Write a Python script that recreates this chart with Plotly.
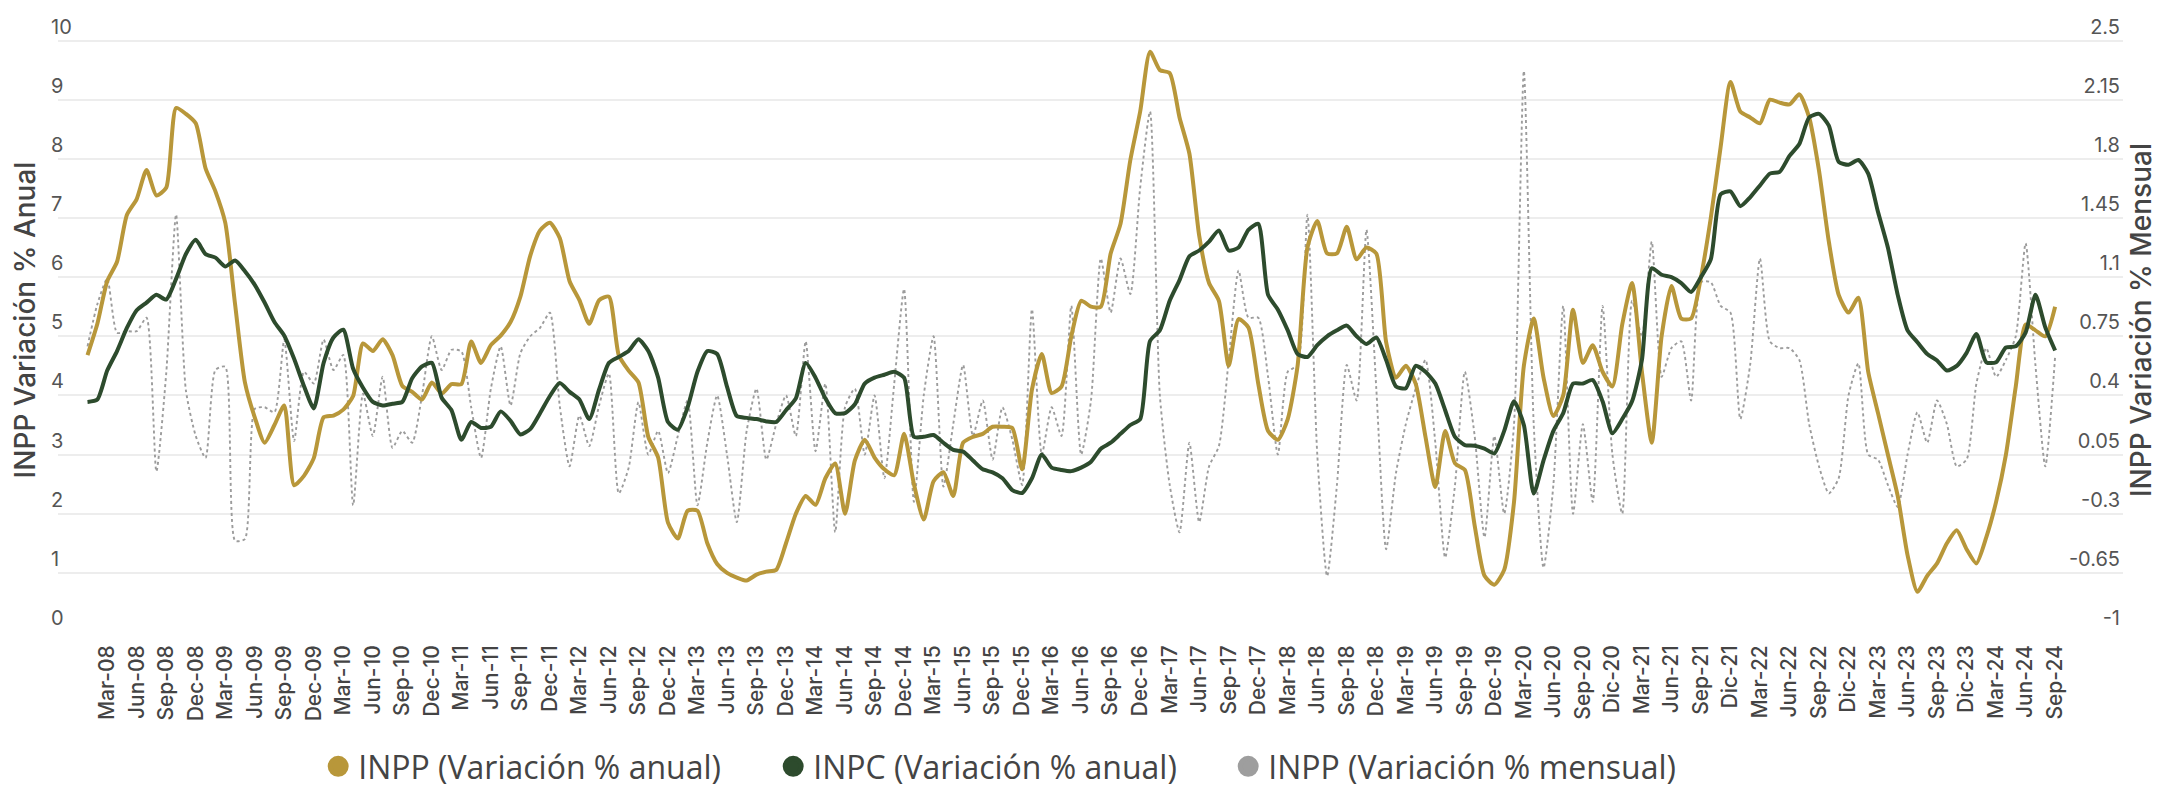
import plotly.graph_objects as go

# Monthly series, Jan-2008 .. Sep-2024
INPP_ANUAL = [
    4.68, 5.21, 5.93, 6.26, 7.05, 7.32, 7.81, 7.38, 7.51, 8.86, 8.76, 8.60,
    7.84, 7.45, 6.92, 5.54, 4.22, 3.63, 3.20, 3.50, 3.83, 2.48, 2.64, 2.94,
    3.63, 3.66, 3.76, 3.99, 4.88, 4.75, 4.95, 4.68, 4.16, 4.06, 3.93, 4.22,
    4.03, 4.19, 4.19, 4.91, 4.55, 4.85, 5.01, 5.24, 5.67, 6.36, 6.79, 6.92,
    6.66, 5.93, 5.61, 5.21, 5.61, 5.67, 4.68, 4.42, 4.22, 3.30, 2.95, 1.85,
    1.58, 2.05, 2.05, 1.50, 1.15, 1.00, 0.92, 0.87, 0.97, 1.02, 1.05, 1.50,
    2.00, 2.30, 2.15, 2.60, 2.85, 2.00, 2.90, 3.25, 2.95, 2.75, 2.65, 3.35,
    2.50, 1.90, 2.55, 2.70, 2.30, 3.20, 3.30, 3.35, 3.47, 3.47, 3.45, 2.75,
    4.10, 4.70, 4.04, 4.15, 5.00, 5.60, 5.50, 5.50, 6.40, 6.90, 7.98, 8.80,
    9.81, 9.50, 9.45, 8.70, 8.09, 6.70, 5.90, 5.60, 4.50, 5.29, 5.15, 4.20,
    3.40, 3.25, 3.60, 4.50, 6.50, 6.95, 6.40, 6.40, 6.85, 6.30, 6.50, 6.40,
    4.90, 4.30, 4.50, 4.20, 3.30, 2.45, 3.40, 2.85, 2.74, 1.80, 0.95, 0.80,
    1.05, 2.20, 4.50, 5.30, 4.30, 3.65, 4.00, 5.45, 4.55, 4.85, 4.40, 4.15,
    5.20, 5.90, 4.40, 3.20, 5.00, 5.85, 5.30, 5.30, 6.00, 7.00, 8.20, 9.30,
    8.80, 8.70, 8.60, 9.00, 8.95, 8.92, 9.09, 8.70, 7.80, 6.60, 5.70, 5.40,
    5.65, 4.40, 3.70, 3.00, 2.30, 1.30, 0.68, 0.95, 1.16, 1.50, 1.72, 1.40,
    1.16, 1.60, 2.20, 3.00, 4.15, 5.20, 5.10, 5.00, 5.50,
]

INPC_ANUAL = [
    3.89, 3.93, 4.42, 4.75, 5.14, 5.44, 5.57, 5.70, 5.62, 5.97, 6.39, 6.63,
    6.39, 6.33, 6.18, 6.28, 6.10, 5.87, 5.57, 5.24, 5.01, 4.62, 4.16, 3.78,
    4.55, 4.98, 5.11, 4.45, 4.13, 3.89, 3.83, 3.86, 3.89, 4.29, 4.49, 4.55,
    3.96, 3.75, 3.25, 3.55, 3.45, 3.47, 3.73, 3.57, 3.34, 3.43, 3.70, 3.99,
    4.21, 4.06, 3.93, 3.60, 4.10, 4.55, 4.65, 4.75, 4.95, 4.75, 4.30, 3.55,
    3.42, 3.80, 4.40, 4.75, 4.70, 4.15, 3.65, 3.62, 3.60, 3.56, 3.55, 3.75,
    3.95, 4.55, 4.30, 3.95, 3.70, 3.70, 3.85, 4.20, 4.30, 4.35, 4.40, 4.30,
    3.30, 3.30, 3.33, 3.20, 3.08, 3.05, 2.90, 2.75, 2.70, 2.60, 2.40, 2.35,
    2.60, 3.00, 2.78, 2.74, 2.72, 2.78, 2.88, 3.10, 3.20, 3.35, 3.50, 3.60,
    4.92, 5.10, 5.60, 5.95, 6.35, 6.45, 6.60, 6.79, 6.45, 6.50, 6.80, 6.90,
    5.70, 5.45, 5.10, 4.70, 4.65, 4.85, 5.00, 5.10, 5.18, 5.00, 4.87, 4.98,
    4.60, 4.15, 4.12, 4.50, 4.40, 4.20, 3.75, 3.30, 3.16, 3.15, 3.10, 3.02,
    3.40, 3.90, 3.50, 2.34, 2.90, 3.40, 3.70, 4.20, 4.20, 4.26, 3.90, 3.36,
    3.60, 3.90, 4.60, 6.15, 6.04, 6.00, 5.90, 5.75, 6.00, 6.30, 7.40, 7.45,
    7.20, 7.35, 7.55, 7.75, 7.78, 8.05, 8.25, 8.70, 8.76, 8.56, 7.95, 7.90,
    7.98, 7.75, 7.10, 6.50, 5.70, 5.10, 4.90, 4.70, 4.59, 4.42, 4.50, 4.72,
    5.04, 4.56, 4.56, 4.81, 4.83, 5.06, 5.70, 5.15, 4.76,
]

INPP_MENSUAL = [
    0.69, 0.94, 1.09, 0.77, 0.78, 0.78, 0.86, -0.05, 0.53, 1.47, 0.43, 0.16,
    0.03, 0.55, 0.57, -0.46, -0.45, 0.32, 0.33, 0.30, 0.73, 0.13, 0.54, 0.47,
    0.73, 0.55, 0.64, -0.25, 0.41, 0.16, 0.51, 0.09, 0.19, 0.12, 0.40, 0.75,
    0.55, 0.67, 0.66, 0.33, 0.03, 0.44, 0.69, 0.34, 0.65, 0.75, 0.80, 0.89,
    0.34, -0.02, 0.28, 0.10, 0.34, 0.53, -0.18, -0.03, 0.36, 0.05, 0.19, -0.06,
    0.16, 0.37, -0.25, 0.12, 0.40, 0.05, -0.35, 0.19, 0.44, 0.02, 0.23, 0.40,
    0.16, 0.72, 0.07, 0.47, -0.41, 0.33, 0.44, 0.05, 0.40, -0.09, 0.47, 1.03,
    -0.23, 0.40, 0.75, -0.14, 0.23, 0.58, 0.16, 0.37, 0.02, 0.33, 0.14, -0.13,
    0.91, 0.05, 0.33, 0.16, 0.93, 0.05, 0.37, 1.21, 0.89, 1.21, 1.00, 1.63,
    2.08, 0.40, -0.13, -0.41, 0.12, -0.35, -0.02, 0.10, 0.61, 1.14, 0.86, 0.86,
    0.51, 0.05, 0.54, 0.58, 1.47, 0.05, -0.67, -0.13, 0.58, 0.37, 1.38, 0.44,
    -0.51, -0.06, 0.23, 0.44, 0.61, 0.12, -0.56, -0.13, 0.54, 0.16, -0.44, 0.16,
    -0.30, 0.23, 2.32, 0.23, -0.62, -0.13, 0.93, -0.30, 0.23, -0.23, 0.93, 0.05,
    -0.30, 0.96, 0.75, 1.31, 0.51, 0.68, 0.72, 0.37, 1.07, 1.07, 0.93, 0.89,
    0.26, 0.58, 1.21, 0.72, 0.68, 0.68, 0.61, 0.23, -0.02, -0.18, -0.09, 0.40,
    0.59, 0.05, 0.02, -0.13, -0.26, 0.05, 0.30, 0.12, 0.37, 0.23, -0.02, 0.02,
    0.47, 0.68, 0.51, 0.61, 0.75, 1.30, 0.58, -0.02, 0.63,
]

TICK_LABELS = [
    "Mar-08", "Jun-08", "Sep-08", "Dec-08", "Mar-09", "Jun-09", "Sep-09", "Dec-09",
    "Mar-10", "Jun-10", "Sep-10", "Dec-10", "Mar-11", "Jun-11", "Sep-11", "Dec-11",
    "Mar-12", "Jun-12", "Sep-12", "Dec-12", "Mar-13", "Jun-13", "Sep-13", "Dec-13",
    "Mar-14", "Jun-14", "Sep-14", "Dec-14", "Mar-15", "Jun-15", "Sep-15", "Dec-15",
    "Mar-16", "Jun-16", "Sep-16", "Dec-16", "Mar-17", "Jun-17", "Sep-17", "Dec-17",
    "Mar-18", "Jun-18", "Sep-18", "Dec-18", "Mar-19", "Jun-19", "Sep-19", "Dec-19",
    "Mar-20", "Jun-20", "Sep-20", "Dic-20", "Mar-21", "Jun-21", "Sep-21", "Dic-21",
    "Mar-22", "Jun-22", "Sep-22", "Dic-22", "Mar-23", "Jun-23", "Sep-23", "Dic-23",
    "Mar-24", "Jun-24", "Sep-24",
]

LEFT_TICKS = [0, 1, 2, 3, 4, 5, 6, 7, 8, 9, 10]
RIGHT_TICKS = [-1, -0.65, -0.3, 0.05, 0.4, 0.75, 1.1, 1.45, 1.8, 2.15, 2.5]
RIGHT_TICK_TEXT = ["-1", "-0.65", "-0.3", "0.05", "0.4", "0.75", "1.1", "1.45", "1.8", "2.15", "2.5"]

NAMES = ["INPP (Variación % anual)", "INPC (Variación % anual)", "INPP (Variación % mensual)"]
GOLD = "#B8973A"
GREEN = "#2D4B2D"
GRAY = "#9C9C9C"

x = list(range(len(INPP_ANUAL)))
tickvals = list(range(2, len(x), 3))[:len(TICK_LABELS)]

fig = go.Figure()

# monthly series on the primary (right-side) axis so it is drawn underneath
fig.add_trace(go.Scatter(
    x=x, y=INPP_MENSUAL, mode="lines", yaxis="y", showlegend=False,
    line=dict(color=GRAY, width=1.9, dash="dot", shape="spline", smoothing=0.6),
    name=NAMES[2],
))
fig.add_trace(go.Scatter(
    x=x, y=INPP_ANUAL, mode="lines", yaxis="y2", showlegend=False,
    line=dict(color=GOLD, width=4, shape="spline", smoothing=0.6),
    name=NAMES[0],
))
fig.add_trace(go.Scatter(
    x=x, y=INPC_ANUAL, mode="lines", yaxis="y2", showlegend=False,
    line=dict(color=GREEN, width=4, shape="spline", smoothing=0.6),
    name=NAMES[1],
))

# legend entries (filled circles)
for name, col in zip(NAMES, [GOLD, GREEN, "#9E9E9E"]):
    fig.add_trace(go.Scatter(
        x=[None], y=[None], mode="markers", name=name, yaxis="y2",
        marker=dict(size=16, color=col, symbol="circle", line=dict(color=col, width=5)),
    ))

tick_font = dict(family="Inter, Lato, sans-serif", size=20, color="#555555")
title_font = dict(family="Inter, Lato, sans-serif", size=28, color="#444444", weight=500)

fig.update_layout(
    width=2177, height=786,
    margin=dict(l=50, r=62, t=0, b=157),
    paper_bgcolor="white", plot_bgcolor="white",
    xaxis=dict(
        range=[-3.0, 206.9], tickmode="array", tickvals=tickvals, ticktext=TICK_LABELS,
        tickangle=-90, tickfont=dict(family="Inter, Lato, sans-serif", size=21, color="#444444", weight=500),
        showgrid=False, zeroline=False, showline=False, ticks="", ticklabelstandoff=8,
    ),
    yaxis=dict(
        side="right", range=[-1, 2.6925], tickmode="array",
        tickvals=RIGHT_TICKS, ticktext=RIGHT_TICK_TEXT,
        ticklabelposition="inside top", tickfont=tick_font, ticklen=0,
        showgrid=True, gridcolor="#EDEDED", gridwidth=2, zeroline=False, showline=False, ticks="",
        title=dict(text="INPP Variación % Mensual", font=title_font, standoff=12),
    ),
    yaxis2=dict(
        side="left", overlaying="y", range=[0, 10.55], tickmode="array", tickvals=LEFT_TICKS,
        ticklabelposition="inside top", tickfont=tick_font, ticklen=0, ticklabelstandoff=-10,
        showgrid=False, zeroline=False, showline=False, ticks="",
        title=dict(text="INPP Variación % Anual", font=title_font, standoff=12),
    ),
    legend=dict(
        orientation="h", x=0.126, xanchor="left", y=-0.216, yanchor="middle",
        font=dict(family="Open Sans, sans-serif", size=32, color="#444444"),
        entrywidth=410, entrywidthmode="pixels", itemsizing="trace",
        bgcolor="rgba(0,0,0,0)",
    ),
    showlegend=True,
)

fig.write_html("out.html")
